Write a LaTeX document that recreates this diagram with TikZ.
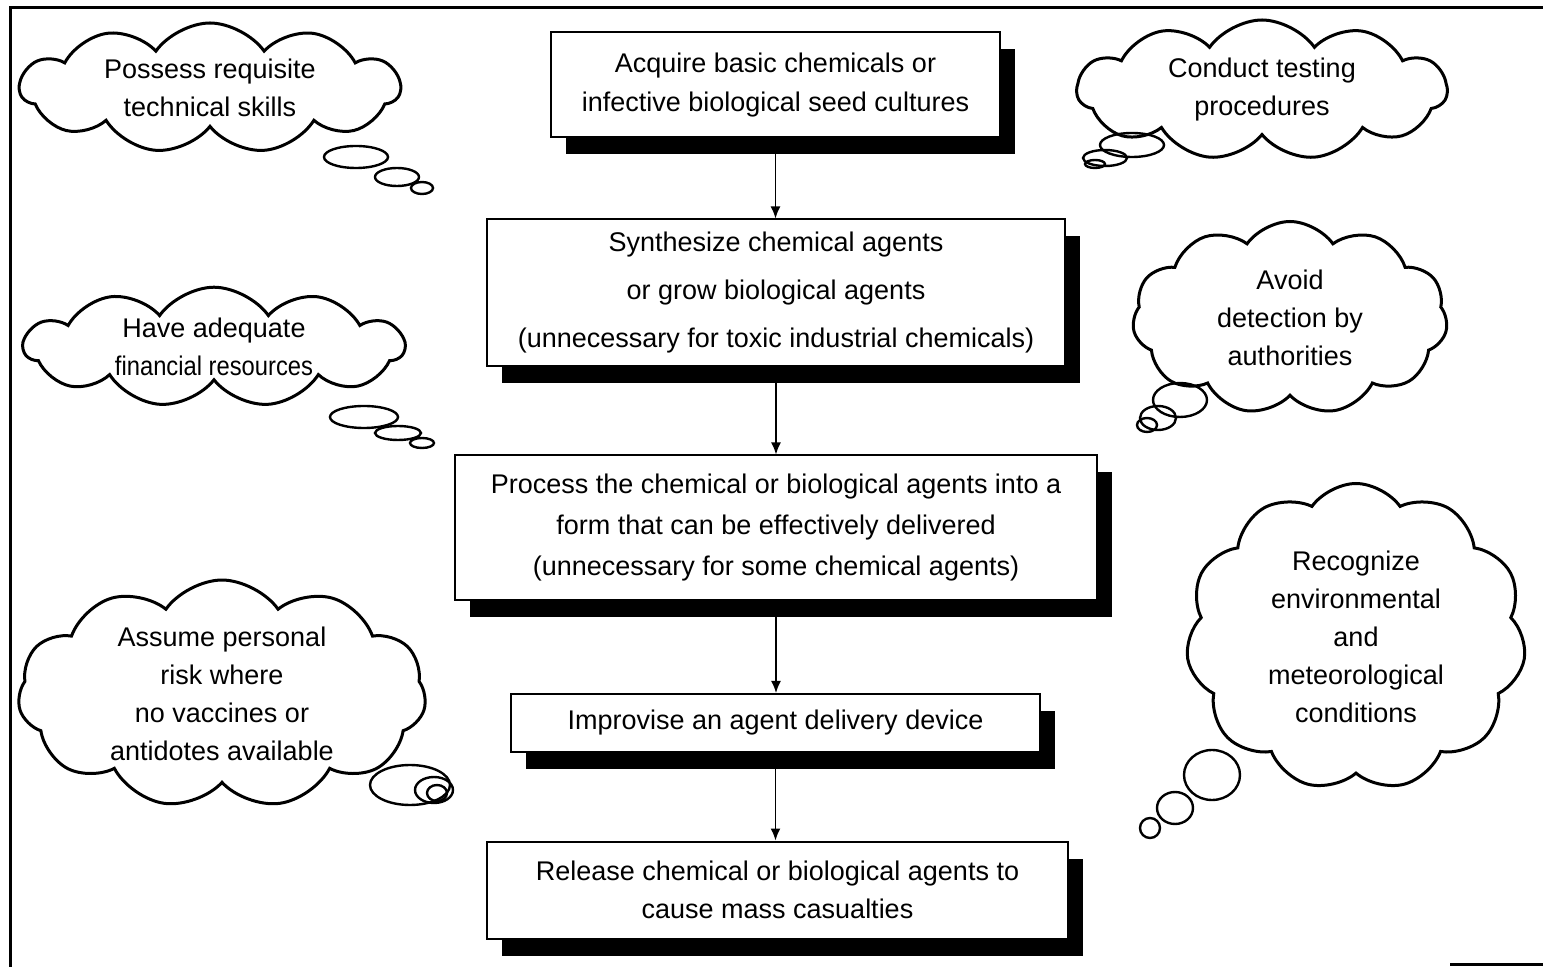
\documentclass[tikz,border=0pt]{standalone}
\usepackage{fontspec}
\setmainfont{Liberation Sans}
\usepackage{graphicx}
\usepackage{tikz}
\usetikzlibrary{positioning}
\usetikzlibrary{shapes.symbols}
\usetikzlibrary{shapes.geometric}
\usetikzlibrary{shadows}
\usetikzlibrary{arrows.meta}

\begin{document}
\begin{tikzpicture}[
		x=0.5pt, y=-0.5pt,
		every node/.style = {
			align=center,
			font=\fontsize{13.5}{19}\selectfont
		},
		stepbox/.style = {
			shape=rectangle,
			draw,
			line width=1pt,
			fill=white,
			inner sep=0pt,
			drop shadow={shadow xshift=7.5pt, shadow yshift=-8.5pt, fill=black, opacity=1}
		},
		thought/.style = {shape=cloud, draw, line width=1.5pt, cloud puffs=11, cloud puff arc=110, cloud ignores aspect, inner sep=0pt},
		bubble/.style = {shape=ellipse, draw, line width=1.2pt, inner sep=0pt},
		flow/.style = {-{Latex[length=6pt, width=5pt]}, line width=0.8pt},
		frame/.style = {line width=1.5pt}
		]
		\useasboundingbox (0,0) rectangle (1543,967);
		\draw[frame] (10,967) -- (10,8) -- (1543,8);
		\draw[frame] (1450,964) -- (1543,964);

		\node[stepbox, minimum width=224.5pt, minimum height=52.5pt, font=\fontsize{13.5}{19.5}\selectfont] (acquire) at (775.5,85) {Acquire basic chemicals or\\infective biological seed cultures};
		\node[stepbox, minimum width=289pt, minimum height=73.5pt, font=\fontsize{13.5}{24}\selectfont] (synth) at (776,293) {Synthesize chemical agents\\or grow biological agents\\(unnecessary for toxic industrial chemicals)};
		\node[stepbox, minimum width=321pt, minimum height=72.5pt, font=\fontsize{13.5}{20.5}\selectfont] (process) at (776,528) {Process the chemical or biological agents into a\\form that can be effectively delivered\\(unnecessary for some chemical agents)};
		\node[stepbox, minimum width=264.5pt, minimum height=29pt] (improvise) at (775.5,723) {Improvise an agent delivery device};
		\node[stepbox, minimum width=290.5pt, minimum height=48.5pt] (release) at (777.5,890) {Release chemical or biological agents to\\cause mass casualties};

		\draw[flow] (acquire.south) -- (acquire.south |- synth.north);
		\draw[flow] (synth.south) -- (synth.south |- process.north);
		\draw[flow] (process.south) -- (process.south |- improvise.north);
		\draw[flow] (improvise.south) -- (improvise.south |- release.north);

		\node[thought, minimum width=190pt, minimum height=65pt] (skills) at (210,88) {Possess requisite\\technical skills};
		\node[bubble, minimum width=32pt, minimum height=11pt] (skills1) at (356,157) {};
		\node[bubble, minimum width=22pt, minimum height=9pt] (skills2) at (397,177) {};
		\node[bubble, minimum width=11pt, minimum height=6pt] (skills3) at (422,188) {};

		\node[thought, minimum width=190pt, minimum height=58pt] (finance) at (214,347) {Have adequate\\\scalebox{0.88}[1]{financial resources}};
		\node[bubble, minimum width=34pt, minimum height=11pt] (finance1) at (364,417) {};
		\node[bubble, minimum width=23pt, minimum height=7pt] (finance2) at (398,433) {};
		\node[bubble, minimum width=12pt, minimum height=5pt] (finance3) at (422,443) {};

		\node[thought, minimum width=204pt, minimum height=107.5pt] (risk) at (222,694) {Assume personal\\risk where\\no vaccines or\\antidotes available};
		\node[bubble, minimum width=40pt, minimum height=20pt] (risk1) at (410,785) {};
		\node[bubble, minimum width=19pt, minimum height=13pt] (risk2) at (434,790) {};
		\node[bubble, minimum width=10pt, minimum height=8pt] (risk3) at (437,793) {};

		\node[thought, minimum width=185pt, minimum height=70pt] (testing) at (1262,90) {Conduct testing\\procedures};
		\node[bubble, minimum width=32pt, minimum height=12pt] (testing1) at (1132,145) {};
		\node[bubble, minimum width=22pt, minimum height=8pt] (testing2) at (1105,158) {};
		\node[bubble, minimum width=10pt, minimum height=4pt] (testing3) at (1095,164) {};

		\node[thought, minimum width=157.5pt, minimum height=96.5pt] (detect) at (1290,318) {Avoid\\detection by\\authorities};
		\node[bubble, minimum width=27pt, minimum height=17pt] (detect1) at (1180,400) {};
		\node[bubble, minimum width=18pt, minimum height=12pt] (detect2) at (1158,418) {};
		\node[bubble, minimum width=10pt, minimum height=7pt] (detect3) at (1147,425) {};

		\node[thought, minimum width=170pt, minimum height=153.5pt] (weather) at (1356,637) {Recognize\\environmental\\and\\meteorological\\conditions};
		\node[bubble, minimum width=28pt, minimum height=25pt] (weather1) at (1212,775) {};
		\node[bubble, minimum width=18pt, minimum height=16pt] (weather2) at (1175,808) {};
		\node[bubble, minimum width=10pt, minimum height=10pt] (weather3) at (1150,828) {};
	\end{tikzpicture}
\end{document}
